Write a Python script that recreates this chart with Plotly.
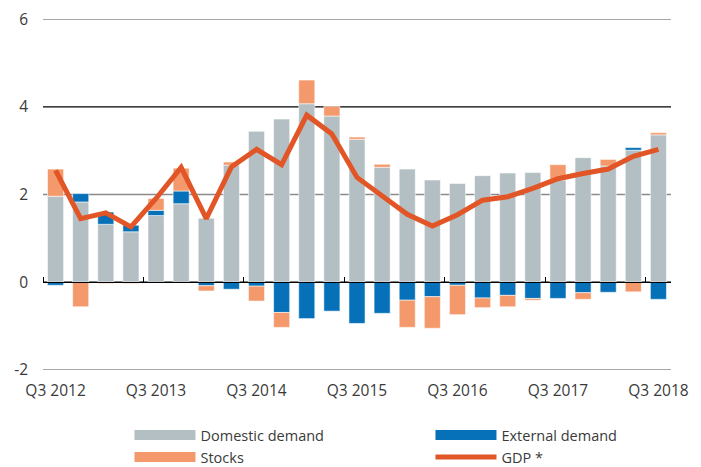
import plotly.graph_objects as go

quarters = ["Q3 2012", "Q4 2012", "Q1 2013", "Q2 2013", "Q3 2013", "Q4 2013",
            "Q1 2014", "Q2 2014", "Q3 2014", "Q4 2014", "Q1 2015", "Q2 2015",
            "Q3 2015", "Q4 2015", "Q1 2016", "Q2 2016", "Q3 2016", "Q4 2016",
            "Q1 2017", "Q2 2017", "Q3 2017", "Q4 2017", "Q1 2018", "Q2 2018",
            "Q3 2018"]
domestic = [1.96, 1.83, 1.32, 1.15, 1.52, 1.79, 1.46, 2.67, 3.44, 3.72, 4.07, 3.79,
            3.26, 2.62, 2.58, 2.33, 2.25, 2.43, 2.49, 2.50, 2.33, 2.84, 2.65, 3.01, 3.36]
external = [-0.07, 0.19, 0.28, 0.15, 0.12, 0.29, -0.08, -0.16, -0.09, -0.69, -0.83, -0.66,
            -0.94, -0.71, -0.41, -0.33, -0.07, -0.36, -0.30, -0.37, -0.37, -0.24, -0.23, 0.06, -0.39]
stocks = [0.62, -0.56, -0.03, -0.03, 0.27, 0.52, -0.12, 0.07, -0.34, -0.34, 0.54, 0.22,
          0.05, 0.07, -0.62, -0.72, -0.67, -0.22, -0.26, -0.04, 0.35, -0.15, 0.15, -0.22, 0.05]
gdp = [2.55, 1.45, 1.58, 1.26, 1.91, 2.62, 1.45, 2.63, 3.03, 2.68, 3.81, 3.38,
       2.39, 1.98, 1.55, 1.28, 1.54, 1.87, 1.95, 2.14, 2.36, 2.48, 2.58, 2.87, 3.03]
y_ticks = [-2, 0, 2, 4, 6]
y_tick_text = ["-2", "0", "2", "4", "6"]
dark_grid = [0, 4]

C_DOM = "#b3bfc3"
C_EXT = "#0671b8"
C_STK = "#f4996b"
C_GDP = "#e15526"
C_GRID = "#8a8a8a"
FONT = "Open Sans"
TXT = "#3a3a3a"

label_vals = [q for q in quarters if q.startswith("Q3")]
bound_vals = [i - 0.5 for i, q in enumerate(quarters) if q.startswith("Q3")]

fig = go.Figure()
edge = dict(color="rgba(255,255,255,0.55)", width=1)
for name, vals, col in [("Domestic demand", domestic, C_DOM),
                        ("External demand", external, C_EXT),
                        ("Stocks", stocks, C_STK)]:
    fig.add_trace(go.Bar(x=quarters, y=vals, name=name, marker_color=col,
                         marker_line=edge, width=0.64, showlegend=False))

fig.add_trace(go.Scatter(x=quarters, y=gdp, mode="lines", name="GDP *",
                         line=dict(color=C_GDP, width=5), showlegend=False))

# legend entries (wide swatches)
for name, col, w in [("Domestic demand", C_DOM, 10), ("External demand", C_EXT, 10),
                     ("Stocks", C_STK, 10), ("GDP *", C_GDP, 5)]:
    fig.add_trace(go.Scatter(x=[None], y=[None], mode="lines", name=name,
                             line=dict(color=col, width=w), hoverinfo="skip"))

# dummy trace for the zero-line tick axis
fig.add_trace(go.Scatter(x=[None], y=[None], xaxis="x2", showlegend=False, hoverinfo="skip"))

shapes = []
for v in y_ticks:
    col = "black" if v in dark_grid else C_GRID
    shapes.append(dict(type="line", xref="paper", x0=0, x1=1, yref="y", y0=v, y1=v,
                       line=dict(color=col, width=1.3), layer="between"))

# the page body has an 8px margin: shrink the figure by that amount
fig.update_layout(
    width=693, height=459,
    margin=dict(l=35, r=30, t=11, b=97, autoexpand=False),
    paper_bgcolor="white", plot_bgcolor="white",
    barmode="relative", bargap=0.36,
    font=dict(family=FONT, size=14, color=TXT),
    xaxis=dict(type="category", categoryarray=quarters, range=[-0.5, 24.5],
               tickmode="array", tickvals=label_vals, ticktext=label_vals,
               ticks="", showgrid=False, showline=False, zeroline=False,
               automargin=False, ticklabeloverflow="allow",
               ticklabelstandoff=9, tickfont=dict(size=15.5, color=TXT)),
    xaxis2=dict(overlaying="x", anchor="free", position=0.25, side="top",
                type="linear", range=[-0.5, 24.5], tickmode="array",
                tickvals=bound_vals, ticks="outside", ticklen=5, tickwidth=1.3,
                tickcolor="black", showticklabels=False, showgrid=False,
                showline=True, linecolor="black", linewidth=1.3, zeroline=False),
    yaxis=dict(range=[-2.002, 6.002], tickmode="array", tickvals=y_ticks,
               ticktext=y_tick_text, ticklabeloverflow="allow",
               showgrid=False, zeroline=False,
               ticks="", ticklabelstandoff=14, automargin=False,
               tickfont=dict(size=15.5, color=TXT)),
    legend=dict(orientation="h", x=0.1377, xanchor="left", y=-0.14, yanchor="top",
                itemwidth=61, entrywidth=225, entrywidthmode="pixels",
                font=dict(size=14.5, color=TXT), tracegroupgap=0,
                bgcolor="rgba(0,0,0,0)"),
    shapes=shapes,
)

fig.write_html("out.html")
